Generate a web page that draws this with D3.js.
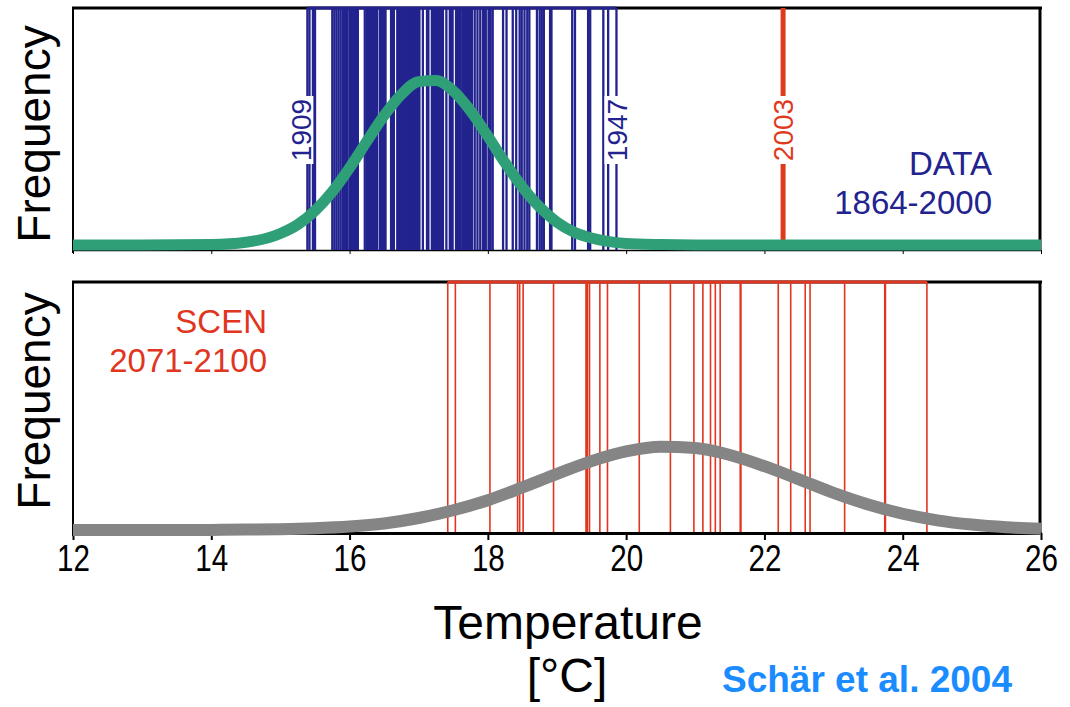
<!DOCTYPE html>
<html>
<head>
<meta charset="utf-8">
<script src="https://cdn.jsdelivr.net/npm/d3@7"></script>
<style>
  body { margin: 0; background: #fff; }
  text { font-family: "Liberation Sans", Arial, Helvetica, sans-serif; }
</style>
</head>
<body>
<div id="chart"></div>
<script>
'use strict';

// observed summer temperatures 1864-2000 (one line per year)
const obsTemps = [
  15.39, 15.42, 15.47, 15.50,
  15.75, 15.78, 15.81, 15.84, 15.87,
  15.90, 15.92, 15.95, 15.97, 16.00, 16.02, 16.05, 16.08, 16.10, 16.12,
  16.22, 16.25, 16.28, 16.30, 16.33, 16.36, 16.38, 16.40,
  16.44, 16.47, 16.50, 16.52, 16.60, 16.62, 16.64,
  16.69, 16.71, 16.73, 16.75, 16.77, 16.79, 16.81, 16.83, 16.85, 16.87, 16.89,
  16.91, 16.93, 16.95, 16.97, 16.99, 17.01, 17.06, 17.12, 17.14,
  17.19, 17.21, 17.23, 17.25, 17.27, 17.29, 17.31, 17.33, 17.35,
  17.40, 17.45, 17.47, 17.49, 17.54, 17.56, 17.58,
  17.60, 17.63, 17.67, 17.70, 17.74, 17.77, 17.81, 17.85, 17.89,
  17.93, 17.97, 18.01, 18.04, 18.07, 18.22, 18.27, 18.36, 18.41, 18.46,
  18.49, 18.53, 18.57, 18.60, 18.71, 18.75,
  18.78, 18.81, 18.90, 18.92, 19.22, 19.26, 19.45, 19.48, 19.67, 19.74, 19.86,
  16.01, 16.06, 16.31, 16.35, 16.70, 16.74, 16.78, 16.82, 16.86, 16.90, 16.94,
  16.98, 17.00, 17.20, 17.24, 17.28, 17.32, 17.22, 17.26, 17.30, 16.76, 16.80,
  16.84, 16.88, 16.92, 16.96, 17.34, 17.64, 17.72, 17.95, 18.02
];
const obsLabelYears = ['1909', '1947'];
const obsLabelTemps = [15.39, 19.86];
const hotYear = '2003';
const hotTemp = 22.27;

// scenario 2071-2100
const scenTemps = [
  17.42, 17.53, 18.03, 18.43, 18.46, 18.51, 18.95, 19.42, 19.43, 19.44,
  19.47, 19.62, 19.73, 20.19, 20.64, 20.98, 21.11, 21.22, 21.29, 21.36,
  21.65, 21.66, 22.20, 22.38, 22.59, 22.66, 23.16, 23.74, 23.75, 24.35
];

// fitted distributions
const obsCurveT = [12, 13, 14, 14.5, 15, 15.25, 15.5, 15.75, 16, 16.25, 16.5, 16.75, 17, 17.25,
  17.5, 17.75, 18, 18.25, 18.5, 18.75, 19, 19.25, 19.5, 20, 20.5, 21, 22, 23, 24, 25, 26];
const obsCurveF = [0, 0, 0.001, 0.007, 0.030, 0.053, 0.089, 0.138, 0.200, 0.269, 0.336, 0.391, 0.424, 0.427,
  0.400, 0.348, 0.282, 0.213, 0.150, 0.098, 0.059, 0.033, 0.018, 0.004, 0.001, 0, 0, 0, 0, 0, 0];
const scenCurveT = [12, 13, 14, 14.5, 15, 15.5, 16, 16.5, 17, 17.5, 18, 18.5, 19, 19.5, 20,
  20.5, 21, 21.5, 22, 22.5, 23, 23.5, 24, 24.5, 25, 25.5, 26];
const scenCurveF = [0, 0, 0.0003, 0.001, 0.002, 0.0045, 0.009, 0.017, 0.031, 0.051, 0.077, 0.110, 0.145, 0.178, 0.203,
  0.215, 0.212, 0.194, 0.165, 0.131, 0.096, 0.066, 0.042, 0.025, 0.014, 0.007, 0.003];

const xTicks = [12, 14, 16, 18, 20, 22, 24, 26];

const colors = {
  obs: '#23238f',
  hot: '#e03a1e',
  scen: '#e0351f',
  green: '#2f9f78',
  gray: '#858585',
  cite: '#1a8cff'
};

const width = 1070;
const height = 707;

const svg = d3.select('#chart').append('svg')
  .attr('width', width)
  .attr('height', height);

const xScale = d3.scaleLinear()
  .domain([12, 26])
  .range([73, 1041]);

const topPanel = { y0: 8, y1: 250 };
const botPanel = { y0: 282, y1: 533 };

const yTop = d3.scaleLinear()
  .domain([0, 0.615])
  .range([245, 8]);

const yBot = d3.scaleLinear()
  .domain([0, 0.641])
  .range([530, 282]);

function frame(p) {
  const g = svg.append('g');
  g.append('line')
    .attr('x1', xScale(12)).attr('x2', xScale(12))
    .attr('y1', p.y0).attr('y2', p.y1 + 3)
    .attr('stroke', '#000').attr('stroke-width', 2);
  g.append('line')
    .attr('x1', xScale(12) - 1).attr('x2', xScale(26) + 1)
    .attr('y1', p.y0).attr('y2', p.y0)
    .attr('stroke', '#000').attr('stroke-width', 3);
  g.append('line')
    .attr('x1', xScale(26) - 1).attr('x2', xScale(26) - 1)
    .attr('y1', p.y0).attr('y2', p.y1)
    .attr('stroke', '#000').attr('stroke-width', 3);
}

function yearLines(temps, p, color, w) {
  svg.append('g')
    .selectAll('line')
    .data(temps)
    .join('line')
    .attr('x1', d => xScale(d))
    .attr('x2', d => xScale(d))
    .attr('y1', p.y0)
    .attr('y2', p.y1)
    .attr('stroke', color)
    .attr('stroke-width', w);
  // band along the top edge between coolest and warmest year
  svg.append('line')
    .attr('x1', xScale(d3.min(temps)))
    .attr('x2', xScale(d3.max(temps)))
    .attr('y1', p.y0)
    .attr('y2', p.y0)
    .attr('stroke', color)
    .attr('stroke-width', 3);
}

function yearLabel(t, label, color, shift) {
  const g = svg.append('g')
    .attr('transform', `translate(${xScale(t) + (shift || 0)}, 130) rotate(-90)`);
  g.append('rect')
    .attr('x', -34).attr('y', -12)
    .attr('width', 68).attr('height', 24)
    .attr('fill', '#fff');
  g.append('text')
    .text(label)
    .attr('text-anchor', 'middle')
    .attr('dy', '0.36em')
    .attr('fill', color)
    .style('font-size', '28px');
}

function curve(xs, ys, yScale, color, w) {
  const line = d3.line()
    .curve(d3.curveMonotoneX)
    .x(d => xScale(d[0]))
    .y(d => yScale(d[1]));
  svg.append('path')
    .datum(xs.map((x, i) => [x, ys[i]]))
    .attr('d', line)
    .attr('fill', 'none')
    .attr('stroke', color)
    .attr('stroke-width', w)
    .attr('stroke-linecap', 'butt');
}

// ---- top panel: observations
frame(topPanel);
svg.append('g')
  .attr('transform', `translate(0, ${topPanel.y1})`)
  .call(d3.axisBottom(xScale).tickValues(xTicks).tickSize(4).tickSizeOuter(0).tickFormat(''))
  .call(g => g.select('.domain').attr('stroke', '#000').attr('stroke-width', 1.5));

yearLines(obsTemps, topPanel, colors.obs, 2.3);
obsLabelTemps.forEach((t, i) => yearLabel(t, obsLabelYears[i], colors.obs, i === 0 ? -6 : 0));

svg.append('line')
  .attr('x1', xScale(hotTemp)).attr('x2', xScale(hotTemp))
  .attr('y1', topPanel.y0).attr('y2', yTop(0))
  .attr('stroke', colors.hot)
  .attr('stroke-width', 5);
yearLabel(hotTemp, hotYear, colors.hot);

curve(obsCurveT, obsCurveF, yTop, colors.green, 11);

svg.append('text')
  .text('DATA')
  .attr('x', 992).attr('y', 175)
  .attr('text-anchor', 'end')
  .attr('fill', colors.obs)
  .style('font-size', '33px');
svg.append('text')
  .text('1864-2000')
  .attr('x', 992).attr('y', 214)
  .attr('text-anchor', 'end')
  .attr('fill', colors.obs)
  .style('font-size', '33px');

// ---- bottom panel: scenario
frame(botPanel);
yearLines(scenTemps, botPanel, colors.scen, 1.6);

const xAxis = d3.axisBottom(xScale)
  .tickValues(xTicks)
  .tickSize(7)
  .tickSizeOuter(0)
  .tickPadding(5);

svg.append('g')
  .attr('transform', `translate(0, ${botPanel.y1})`)
  .call(xAxis)
  .call(g => g.select('.domain').attr('stroke', '#000').attr('stroke-width', 3))
  .call(g => g.selectAll('.tick line').attr('stroke', '#000').attr('stroke-width', 2))
  .call(g => g.selectAll('.tick text')
    .attr('fill', '#000')
    .attr('transform', 'scale(0.8, 1)')
    .style('font-size', '37px')
    .style('font-family', '"Liberation Sans", Arial, sans-serif'));

curve(scenCurveT, scenCurveF, yBot, colors.gray, 12);

svg.append('text')
  .text('SCEN')
  .attr('x', 267).attr('y', 333)
  .attr('text-anchor', 'end')
  .attr('fill', colors.scen)
  .style('font-size', '33px');
svg.append('text')
  .text('2071-2100')
  .attr('x', 267).attr('y', 372)
  .attr('text-anchor', 'end')
  .attr('fill', colors.scen)
  .style('font-size', '33px');

// Axis Labels
[134, 401].forEach(cy => {
  svg.append('text')
    .text('Frequency')
    .attr('transform', `translate(50, ${cy}) rotate(-90)`)
    .attr('text-anchor', 'middle')
    .attr('fill', '#000')
    .style('font-size', '46px');
});

svg.append('text')
  .text('Temperature')
  .attr('x', 568).attr('y', 639)
  .attr('text-anchor', 'middle')
  .style('font-size', '48px');

svg.append('text')
  .text('[°C]')
  .attr('x', 567).attr('y', 692)
  .attr('text-anchor', 'middle')
  .style('font-size', '48px');

svg.append('text')
  .text('Schär et al. 2004')
  .attr('x', 722).attr('y', 692)
  .attr('fill', colors.cite)
  .style('font-size', '37px')
  .style('font-weight', 'bold');
</script>
</body>
</html>
